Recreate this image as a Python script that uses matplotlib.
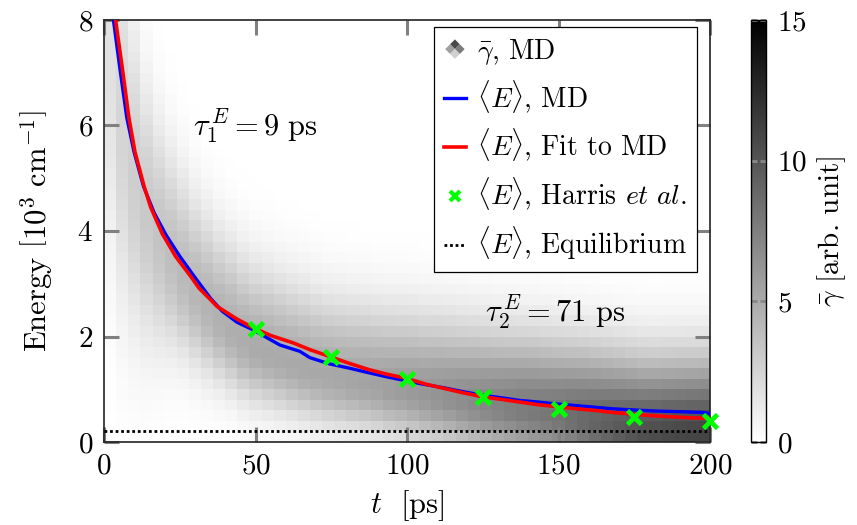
import numpy as np
import matplotlib
matplotlib.use("Agg")
import matplotlib.pyplot as plt
from matplotlib.legend_handler import HandlerBase
from matplotlib.patches import Polygon, Patch
from matplotlib.lines import Line2D

plt.rcParams['font.family'] = 'serif'
plt.rcParams['font.serif'] = ['cmr10']
plt.rcParams['mathtext.fontset'] = 'cm'
plt.rcParams['axes.formatter.use_mathtext'] = True
plt.rcParams['axes.unicode_minus'] = False

# heatmap columns (4 ps wide), energy rows 0.2 wide
t_edges = np.arange(0, 201, 4)
e_edges = np.arange(0, 8.01, 0.2)
col_mode = [7.2, 5.9, 5.0, 4.35, 3.85, 3.45, 3.1, 2.8, 2.55, 2.3,
            2.1, 1.9, 1.75, 1.65, 1.55, 1.46, 1.38, 1.3, 1.23, 1.18,
            1.13, 1.09, 1.05, 1.0, 0.97, 0.93, 0.88, 0.84, 0.8, 0.75,
            0.71, 0.67, 0.63, 0.6, 0.57, 0.54, 0.5, 0.46, 0.42, 0.37,
            0.32, 0.27, 0.22, 0.17, 0.12, 0.1, 0.1, 0.1, 0.1, 0.1]
col_peak = [1.8, 2.5, 2.9, 3.2, 3.5, 3.8, 4.05, 4.25, 4.45, 4.6,
            4.75, 4.85, 4.95, 5.0, 5.0, 5.05, 5.1, 5.1, 5.15, 5.2,
            5.3, 5.4, 5.5, 5.65, 5.8, 5.95, 6.1, 6.3, 6.5, 6.7,
            6.9, 7.1, 7.3, 7.5, 7.7, 7.85, 8.0, 8.2, 8.5, 8.8,
            9.1, 9.4, 9.7, 10.0, 10.3, 10.5, 10.7, 10.8, 10.9, 11.0]
col_wlow = [2.5, 2.3, 2.0, 1.7, 1.4, 1.15, 1.0, 0.92, 0.86, 0.8,
            0.76, 0.73, 0.7, 0.68, 0.66, 0.65, 0.64, 0.63, 0.62, 0.61,
            0.6, 0.6, 0.6, 0.6, 0.6, 0.6, 0.6, 0.6, 0.6, 0.6,
            0.6, 0.6, 0.6, 0.6, 0.6, 0.6, 0.6, 0.6, 0.6, 0.6,
            0.6, 0.6, 0.6, 0.6, 0.6, 0.6, 0.6, 0.6, 0.6, 0.6]
col_whigh = [3.0, 2.4, 1.9, 1.6, 1.45, 1.35, 1.27, 1.2, 1.15, 1.12,
             1.1, 1.08, 1.06, 1.05, 1.04, 1.03, 1.02, 1.01, 1.0, 1.0,
             1.0, 1.0, 1.0, 1.0, 1.0, 1.0, 1.0, 1.0, 1.0, 1.0,
             1.0, 1.0, 1.0, 1.0, 1.0, 1.0, 1.0, 1.0, 1.0, 1.0,
             1.0, 1.0, 1.0, 1.0, 1.0, 1.0, 1.0, 1.0, 1.0, 1.0]

# <E> from MD (blue)
t_md = [3.1, 5.3, 7.5, 9.9, 13.0, 16.5, 20.5, 25.0, 30.0, 35.2, 39.0, 43.9,
        49.4, 54, 58, 64.6, 67.9, 74.5, 81, 87.6, 93, 99.7, 105, 112, 118,
        124.7, 131, 137, 143, 149.7, 156, 162, 168, 174.4, 181, 187, 193, 198, 200]
e_md = [8.0, 7.05, 6.15, 5.5, 4.85, 4.35, 3.92, 3.52, 3.12, 2.72, 2.48, 2.27,
        2.12, 1.97, 1.84, 1.72, 1.6, 1.48, 1.4, 1.31, 1.24, 1.16, 1.1, 1.03, 0.96,
        0.89, 0.84, 0.79, 0.76, 0.72, 0.69, 0.66, 0.63, 0.61, 0.59, 0.58, 0.57, 0.56, 0.54]

# <E> fit to MD (red)
t_fit = [3.8, 6.0, 8.2, 10.2, 13.2, 15.4, 19.2, 23.6, 28.6, 31.3, 34.6, 37.3,
         43.9, 49.4, 55, 62.4, 68, 74.5, 81, 87.6, 93, 99.7, 106, 112, 118,
         124.7, 131, 137, 143, 149.7, 156, 162, 168, 174.4, 181, 187, 193, 200]
e_fit = [8.0, 7.1, 6.15, 5.5, 4.85, 4.45, 3.95, 3.52, 3.14, 2.92, 2.73, 2.57,
         2.33, 2.16, 2.02, 1.88, 1.75, 1.62, 1.49, 1.37, 1.29, 1.21, 1.1, 1.02, 0.94,
         0.86, 0.81, 0.76, 0.71, 0.67, 0.63, 0.6, 0.56, 0.53, 0.5, 0.48, 0.46, 0.45]

# Harris et al.
t_harris = [50, 75, 100, 125, 150, 175, 200]
e_harris = [2.15, 1.61, 1.20, 0.85, 0.62, 0.47, 0.39]

e_equil = 0.21


class HandlerDiamond(HandlerBase):
    # diamond made of four grey quadrants, stands in for the map
    def create_artists(self, legend, orig_handle, xdescent, ydescent,
                       width, height, fontsize, trans):
        cx = width / 2 - xdescent
        cy = height / 2 - ydescent
        q = height * 0.25  # half diagonal of one quadrant
        shades = [((0, 1), '#4a4a4a'), ((1, 0), '#7c7c7c'),
                  ((-1, 0), '#a0a0a0'), ((0, -1), '#d0d0d0')]
        arts = []
        for (dx, dy), c in shades:
            x0, y0 = cx + dx * q, cy + dy * q
            pts = [(x0, y0 + q), (x0 + q, y0), (x0, y0 - q), (x0 - q, y0)]
            arts.append(Polygon(pts, closed=True, facecolor=c, edgecolor='none',
                                transform=trans))
        return arts


fig = plt.figure(figsize=(8.57, 5.25), dpi=100)
ax = fig.add_axes([0.1214, 0.158, 0.7071, 0.804])
cax = fig.add_axes([0.876, 0.158, 0.0175, 0.804])

mode = np.array(col_mode)[:, None]
ec = 0.5 * (e_edges[1:] + e_edges[:-1])[None, :]
width = np.where(ec < mode, np.array(col_wlow)[:, None], np.array(col_whigh)[:, None])
gamma = np.array(col_peak)[:, None] * np.exp(-0.5 * ((ec - mode) / width) ** 2)

mesh = ax.pcolormesh(t_edges, e_edges, gamma.T, cmap='gray_r', vmin=0, vmax=15,
                     shading='flat')

ax.plot(t_md, e_md, color='#0000ff', lw=2.4, zorder=3)
ax.plot(t_fit, e_fit, color='#ff0000', lw=2.6, zorder=4)
ax.plot(t_harris, e_harris, 'x', color='#00ff00', ms=10, mew=3.4, zorder=5,
        clip_on=False)
ax.plot([0, 200], [e_equil, e_equil], color='black', lw=2.0,
        linestyle=(0, (1, 1)), zorder=3)

ax.set_xlim(0, 200)
ax.set_ylim(0, 8)
ax.set_xticks([0, 50, 100, 150, 200])
ax.set_yticks([0, 2, 4, 6, 8])
ax.tick_params(direction='in', length=11, width=2.2, color='#808080',
               top=True, right=True, labelsize=21, pad=8)
for s in ax.spines.values():
    s.set_linewidth(1.2)
    s.set_color('#222222')

ax.set_xlabel(r'$t\ $ [ps]', fontsize=22, labelpad=6)
ax.set_ylabel(r'Energy $\left[10^3\ \mathrm{cm}^{-1}\right]$', fontsize=22, labelpad=16)

ax.text(50, 6.0, r'$\tau_1^{\,E} = 9\ \mathrm{ps}$', fontsize=22, ha='center', va='center')
ax.text(149, 2.47, r'$\tau_2^{\,E} = 71\ \mathrm{ps}$', fontsize=22, ha='center', va='center')

proxy = Patch(facecolor='gray')
handles = [proxy,
           Line2D([], [], color='#0000ff', lw=2.4),
           Line2D([], [], color='#ff0000', lw=2.6),
           Line2D([], [], ls='none', marker='x', color='#00ff00', ms=7, mew=3),
           Line2D([], [], color='black', lw=2.0, linestyle=(0, (1, 1)))]
labels = [r'$\bar{\gamma}$, MD',
          r'$\langle E\rangle$, MD',
          r'$\langle E\rangle$, Fit to MD',
          r'$\langle E\rangle$, Harris $et\ al.$',
          r'$\langle E\rangle$, Equilibrium']
leg = ax.legend(handles, labels, loc='upper right', bbox_to_anchor=(0.978, 0.983),
                borderaxespad=0, fontsize=20, handlelength=0.8, handletextpad=0.4,
                labelspacing=0.42, borderpad=0.35, fancybox=False, framealpha=1,
                edgecolor='black', handler_map={Patch: HandlerDiamond()})
leg.get_frame().set_linewidth(0.9)
leg.set_zorder(10)

cb = fig.colorbar(mesh, cax=cax, ticks=[0, 5, 10, 15])
cb.outline.set_linewidth(1.0)
cb.ax.tick_params(direction='in', left=True, right=True, length=4, width=2,
                  color='#888888', labelsize=21, pad=8)
cb.set_label(r'$\bar{\gamma}$ [arb. unit]', fontsize=21, labelpad=6)

fig.savefig('out.png', dpi=100)
